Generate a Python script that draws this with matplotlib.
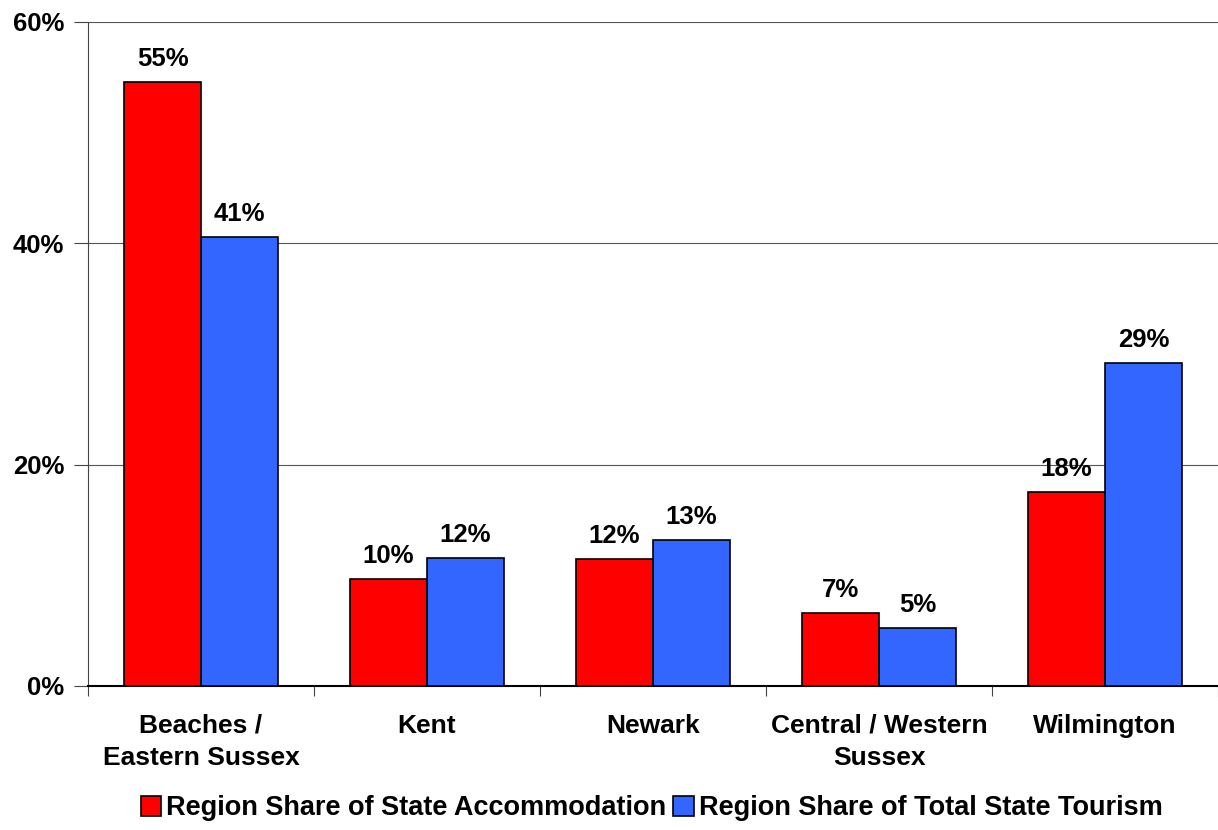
import numpy as np
import matplotlib.pyplot as plt
from matplotlib.ticker import FixedLocator, PercentFormatter

plt.rcParams['font.family'] = ['Liberation Sans', 'DejaVu Sans']
plt.rcParams['font.weight'] = 'bold'

regions = ['Beaches /\nEastern Sussex', 'Kent', 'Newark', 'Central / Western\nSussex', 'Wilmington']
accommodation = [54.6, 9.7, 11.5, 6.6, 17.5]
tourism = [40.6, 11.6, 13.2, 5.2, 29.2]
series_names = ['Region Share of State Accommodation', 'Region Share of Total State Tourism']
colours = ['#FF0000', '#3366FF']

fig = plt.figure(figsize=(12.18, 8.3), dpi=100)
ax = fig.add_axes([0.0722, 0.1735, 0.9278, 0.8])

x = np.arange(len(regions))
w = 0.34
bars_a = ax.bar(x - w / 2, accommodation, w, color=colours[0], edgecolor='black', linewidth=1.2,
                label=series_names[0], zorder=3)
bars_t = ax.bar(x + w / 2, tourism, w, color=colours[1], edgecolor='black', linewidth=1.2,
                label=series_names[1], zorder=3)

for bars, vals in ((bars_a, accommodation), (bars_t, tourism)):
    for b, v in zip(bars, vals):
        ax.annotate('%d%%' % round(v), (b.get_x() + b.get_width() / 2, v),
                    xytext=(0, 8), textcoords='offset points', ha='center', va='bottom',
                    fontsize=18.5, fontweight='bold')

ax.set_xlim(-0.5, len(regions) - 0.5)
ax.set_ylim(0, 60)
ax.yaxis.set_major_locator(FixedLocator([0, 20, 40, 60]))
ax.yaxis.set_major_formatter(PercentFormatter(decimals=0))
ax.grid(axis='y', color='#555555', linewidth=0.8, zorder=0)

# boundary ticks on major, labels on minor
ax.set_xticks(np.arange(len(regions) + 1) - 0.5)
ax.set_xticklabels([])
ax.set_xticks(x, minor=True)
ax.set_xticklabels(regions, minor=True, fontsize=19, fontweight='bold', linespacing=1.45)
ax.tick_params(axis='x', which='minor', length=0, pad=20)
ax.tick_params(axis='x', which='major', length=7, direction='out', color='#444444')
ax.tick_params(axis='y', length=10, direction='out', labelsize=18.5, pad=7, color='#444444')
for t in ax.get_yticklabels():
    t.set_fontweight('bold')

for s in ['top', 'right']:
    ax.spines[s].set_visible(False)
ax.spines['left'].set_color('#444444')
ax.spines['bottom'].set_color('black')
ax.spines['bottom'].set_linewidth(1.5)

leg = fig.legend(loc='lower center', bbox_to_anchor=(0.535, -0.019), ncol=2, frameon=False,
                 prop={'size': 19.5, 'weight': 'bold'}, handlelength=0.75, handleheight=0.75,
                 handletextpad=0.2, columnspacing=0.25)

fig.savefig('out.png', dpi=100)
